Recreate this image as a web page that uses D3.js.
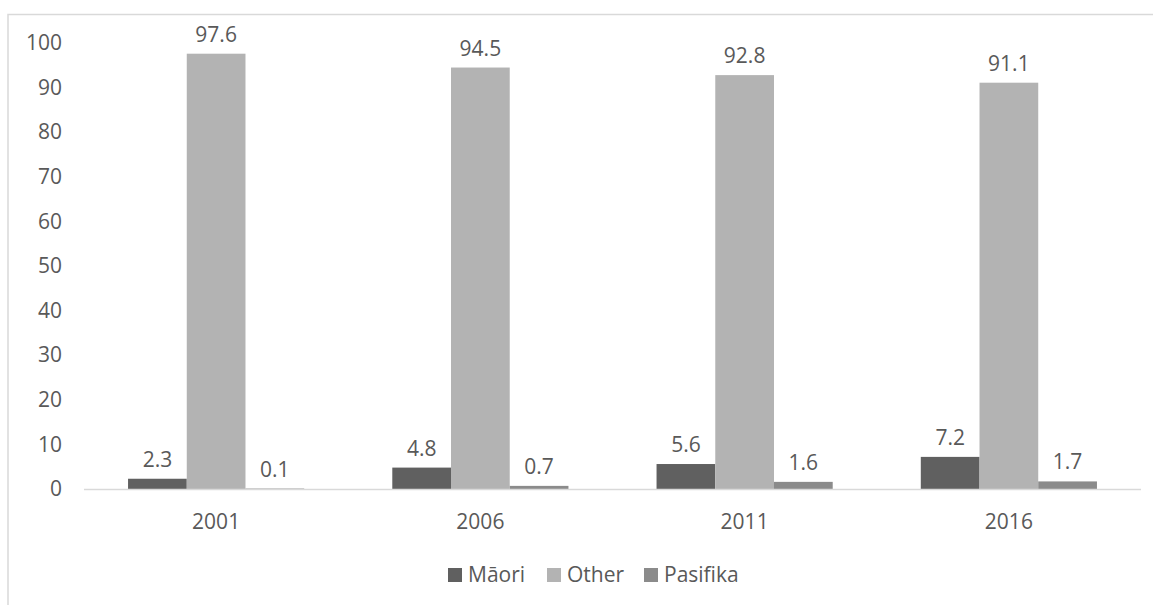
<!DOCTYPE html>
<html><head><meta charset="utf-8">
<script src="https://cdn.jsdelivr.net/npm/d3@7"></script>
<style>body{margin:0;background:#fff}svg{display:block}text{font-family:"Open Sans",sans-serif;fill:#595959}</style>
</head><body><svg id="c" width="1153" height="605"></svg>
<script>
const years = ["2001","2006","2011","2016"];
const seriesNames = ["Māori","Other","Pasifika"];
const maori = [2.3,4.8,5.6,7.2];
const other = [97.6,94.5,92.8,91.1];
const pasifika = [0.1,0.7,1.6,1.7];
const yTicks = [0,10,20,30,40,50,60,70,80,90,100];
const colors = ["#606060","#b3b3b3","#8b8b8b"];
const values = [maori, other, pasifika];
const FS = "21px";

const svg = d3.select("#c");
svg.append("rect").attr("x",8).attr("y",14.5).attr("width",1160).attr("height",620)
  .attr("fill","none").attr("stroke","#d9d9d9").attr("stroke-width",1.5);
const x0 = d3.scaleBand().domain(years).range([84,1141]).paddingInner(0).paddingOuter(0);
const bw = x0.bandwidth()/4.5;
const x1 = d3.scaleBand().domain(seriesNames).range([0.75*bw, 3.75*bw]);
const y = d3.scaleLinear().domain([0,100]).range([489,43]);

// y axis labels
const ya = svg.append("g").attr("transform","translate(62,0)")
  .call(d3.axisLeft(y).tickValues(yTicks).tickSize(0).tickPadding(0));
ya.select(".domain").remove();
ya.selectAll("text").style("font-size",FS).attr("fill","#595959").attr("font-family","Open Sans");

// bars
seriesNames.forEach((s,si)=>{
  const g = svg.append("g");
  g.selectAll("rect").data(years).join("rect")
    .attr("x",d=>x0(d)+x1(s)).attr("width",x1.bandwidth())
    .attr("y",(d,i)=>y(values[si][i])).attr("height",(d,i)=>y(0)-y(values[si][i]))
    .attr("fill",colors[si]);
  g.selectAll("text").data(years).join("text")
    .attr("x",d=>x0(d)+x1(s)+x1.bandwidth()/2)
    .attr("y",(d,i)=>y(values[si][i])-12)
    .attr("text-anchor","middle").style("font-size",FS)
    .text((d,i)=>values[si][i].toFixed(1));
});

// baseline
svg.append("line").attr("x1",84).attr("x2",1141).attr("y1",489.5).attr("y2",489.5)
  .attr("stroke","#d9d9d9").attr("stroke-width",1.5);

// x axis labels
const xa = svg.append("g").attr("transform","translate(0,529)")
  .call(d3.axisBottom(x0).tickSize(0).tickPadding(0));
xa.select(".domain").remove();
xa.selectAll("text").attr("dy",null).style("font-size",FS).attr("fill","#595959").attr("font-family","Open Sans");

// legend
const legX = [448,547,644];
const leg = svg.append("g");
seriesNames.forEach((s,i)=>{
  leg.append("rect").attr("x",legX[i]).attr("y",568).attr("width",14).attr("height",14).attr("fill",colors[i]);
  leg.append("text").attr("x",legX[i]+20).attr("y",582).style("font-size",FS).text(s);
});
</script></body></html>
